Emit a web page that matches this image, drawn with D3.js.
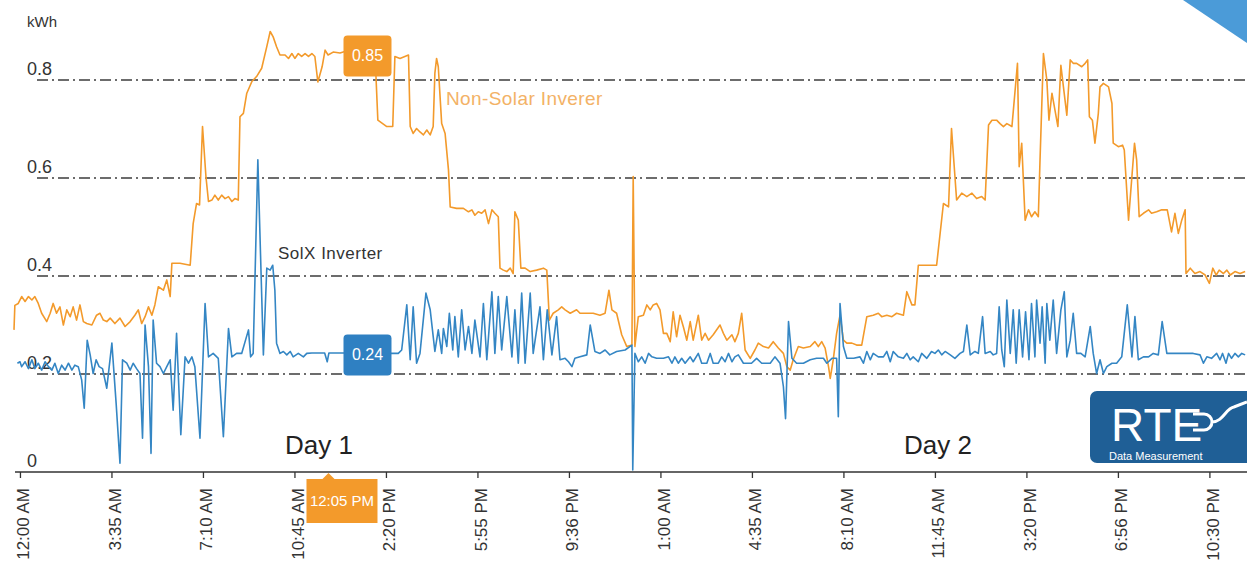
<!DOCTYPE html>
<html>
<head>
<meta charset="utf-8">
<script src="https://cdn.jsdelivr.net/npm/d3@7"></script>
<style>
  body { margin: 0; background: #fff; }
  text { font-family: "Liberation Sans", Arial, sans-serif; }
</style>
</head>
<body>
<div id="chart"></div>
<script>
// minutes since first reading, kWh
const nonSolar = [[0,0.29],[2,0.34],[10,0.344],[18,0.358],[26,0.348],[34,0.358],[42,0.351],[49,0.358],[57,0.344],[65,0.324],[77,0.307],[85,0.324],[92,0.344],[100,0.324],[108,0.337],[116,0.3],[124,0.331],[132,0.317],[139,0.337],[147,0.31],[155,0.341],[163,0.307],[171,0.303],[183,0.3],[194,0.32],[202,0.324],[210,0.31],[218,0.307],[226,0.314],[237,0.303],[249,0.314],[261,0.297],[273,0.307],[284,0.32],[292,0.331],[300,0.303],[308,0.317],[316,0.337],[324,0.32],[331,0.341],[339,0.378],[351,0.371],[359,0.392],[367,0.358],[371,0.426],[390,0.426],[414,0.422],[421,0.507],[429,0.548],[436,0.545],[443,0.705],[451,0.603],[457,0.552],[465,0.555],[472,0.565],[480,0.555],[488,0.565],[496,0.558],[504,0.562],[512,0.552],[519,0.558],[527,0.555],[531,0.725],[539,0.732],[547,0.773],[559,0.797],[570,0.807],[582,0.824],[594,0.868],[602,0.899],[609,0.888],[617,0.868],[625,0.851],[637,0.851],[645,0.844],[653,0.854],[660,0.844],[668,0.854],[676,0.848],[684,0.854],[692,0.848],[700,0.854],[707,0.848],[714,0.796],[724,0.827],[731,0.861],[738,0.851],[750,0.857],[766,0.855],[785,0.86],[820,0.87],[848,0.86],[855,0.718],[876,0.705],[890,0.705],[895,0.848],[907,0.844],[927,0.851],[931,0.705],[938,0.691],[946,0.701],[954,0.694],[962,0.688],[970,0.698],[978,0.688],[985,0.705],[989,0.814],[993,0.844],[997,0.827],[1005,0.711],[1013,0.691],[1021,0.616],[1025,0.541],[1040,0.538],[1056,0.538],[1068,0.531],[1076,0.535],[1083,0.524],[1091,0.531],[1099,0.528],[1107,0.535],[1115,0.507],[1123,0.535],[1130,0.528],[1138,0.521],[1142,0.416],[1150,0.412],[1158,0.409],[1166,0.416],[1173,0.405],[1177,0.531],[1185,0.514],[1191,0.416],[1201,0.416],[1213,0.409],[1228,0.412],[1244,0.416],[1252,0.412],[1258,0.31],[1267,0.324],[1279,0.331],[1287,0.337],[1295,0.331],[1307,0.324],[1322,0.331],[1330,0.324],[1346,0.324],[1361,0.324],[1377,0.32],[1389,0.324],[1398,0.371],[1405,0.331],[1416,0.324],[1428,0.28],[1440,0.256],[1452,0.259],[1455,0.603],[1459,0.256],[1467,0.317],[1479,0.32],[1487,0.341],[1495,0.331],[1502,0.341],[1510,0.344],[1518,0.331],[1526,0.283],[1534,0.283],[1542,0.266],[1549,0.327],[1557,0.276],[1565,0.32],[1573,0.296],[1581,0.269],[1589,0.307],[1596,0.269],[1608,0.32],[1616,0.269],[1624,0.283],[1632,0.269],[1643,0.28],[1659,0.3],[1667,0.283],[1675,0.269],[1687,0.28],[1694,0.266],[1702,0.283],[1710,0.324],[1718,0.249],[1730,0.232],[1741,0.249],[1749,0.263],[1761,0.256],[1773,0.253],[1784,0.266],[1796,0.253],[1808,0.242],[1816,0.215],[1824,0.208],[1831,0.229],[1843,0.256],[1855,0.253],[1871,0.256],[1882,0.266],[1890,0.256],[1898,0.266],[1906,0.253],[1914,0.215],[1918,0.191],[1925,0.229],[1933,0.283],[1941,0.32],[1949,0.269],[1957,0.263],[1969,0.263],[1980,0.259],[1992,0.259],[2004,0.317],[2019,0.32],[2031,0.324],[2039,0.317],[2051,0.32],[2063,0.317],[2074,0.324],[2090,0.32],[2098,0.368],[2110,0.341],[2117,0.341],[2125,0.422],[2145,0.422],[2168,0.422],[2184,0.548],[2196,0.541],[2203,0.701],[2215,0.555],[2227,0.569],[2239,0.562],[2251,0.569],[2262,0.558],[2274,0.562],[2282,0.555],[2290,0.708],[2298,0.718],[2309,0.718],[2317,0.711],[2325,0.705],[2333,0.711],[2345,0.705],[2358,0.834],[2362,0.623],[2368,0.671],[2376,0.514],[2384,0.535],[2391,0.521],[2399,0.531],[2407,0.521],[2411,0.637],[2419,0.854],[2427,0.8],[2432,0.718],[2439,0.773],[2446,0.739],[2453,0.705],[2460,0.83],[2466,0.786],[2474,0.728],[2482,0.841],[2489,0.834],[2497,0.834],[2509,0.827],[2517,0.834],[2523,0.841],[2527,0.725],[2534,0.718],[2540,0.671],[2548,0.732],[2552,0.786],[2560,0.793],[2572,0.786],[2580,0.752],[2583,0.671],[2595,0.664],[2605,0.667],[2609,0.657],[2619,0.514],[2625,0.582],[2633,0.671],[2638,0.637],[2644,0.521],[2654,0.528],[2666,0.535],[2673,0.528],[2685,0.531],[2697,0.535],[2710,0.535],[2720,0.49],[2728,0.528],[2736,0.487],[2744,0.514],[2752,0.535],[2754,0.405],[2764,0.416],[2775,0.405],[2787,0.409],[2799,0.402],[2809,0.385],[2817,0.416],[2825,0.402],[2832,0.412],[2842,0.405],[2850,0.412],[2858,0.402],[2869,0.409],[2881,0.405],[2893,0.409]];

const solx = [[8,0.222],[14,0.225],[18,0.215],[26,0.225],[34,0.211],[42,0.229],[49,0.211],[57,0.222],[65,0.208],[73,0.225],[81,0.215],[89,0.208],[96,0.222],[104,0.201],[112,0.218],[120,0.208],[128,0.222],[136,0.208],[143,0.218],[151,0.215],[159,0.188],[165,0.13],[172,0.269],[179,0.239],[186,0.201],[193,0.229],[200,0.215],[208,0.211],[218,0.171],[230,0.263],[240,0.14],[249,0.018],[255,0.229],[265,0.222],[273,0.208],[280,0.222],[288,0.211],[296,0.201],[302,0.069],[308,0.3],[316,0.215],[322,0.038],[327,0.31],[335,0.222],[343,0.215],[351,0.201],[359,0.215],[367,0.229],[374,0.126],[382,0.283],[392,0.076],[402,0.235],[410,0.222],[418,0.235],[425,0.215],[437,0.069],[449,0.344],[457,0.235],[468,0.242],[480,0.232],[492,0.072],[504,0.293],[512,0.235],[523,0.242],[535,0.242],[551,0.29],[556,0.235],[562,0.242],[573,0.637],[586,0.239],[594,0.416],[602,0.412],[608,0.422],[613,0.371],[617,0.263],[625,0.242],[633,0.246],[641,0.239],[649,0.246],[656,0.235],[668,0.242],[680,0.235],[688,0.242],[700,0.243],[730,0.243],[736,0.225],[740,0.243],[766,0.243],[820,0.243],[888,0.242],[903,0.242],[911,0.249],[923,0.341],[931,0.229],[938,0.337],[946,0.222],[954,0.242],[968,0.365],[978,0.331],[989,0.246],[997,0.29],[1005,0.242],[1009,0.293],[1017,0.256],[1023,0.324],[1031,0.249],[1036,0.317],[1044,0.235],[1052,0.331],[1060,0.249],[1068,0.297],[1076,0.242],[1083,0.31],[1095,0.235],[1103,0.344],[1111,0.229],[1123,0.368],[1130,0.242],[1138,0.358],[1146,0.249],[1158,0.358],[1170,0.235],[1177,0.331],[1185,0.222],[1193,0.365],[1201,0.222],[1213,0.365],[1220,0.242],[1236,0.337],[1244,0.229],[1253,0.331],[1264,0.239],[1275,0.317],[1283,0.229],[1295,0.232],[1303,0.225],[1311,0.215],[1318,0.232],[1330,0.235],[1346,0.239],[1354,0.3],[1365,0.246],[1377,0.242],[1389,0.249],[1400,0.239],[1416,0.246],[1436,0.249],[1452,0.259],[1454,0.004],[1459,0.242],[1467,0.225],[1475,0.235],[1483,0.222],[1491,0.242],[1499,0.235],[1510,0.232],[1526,0.232],[1538,0.235],[1546,0.222],[1553,0.235],[1561,0.222],[1569,0.232],[1577,0.222],[1589,0.235],[1596,0.225],[1608,0.242],[1616,0.222],[1628,0.222],[1636,0.242],[1643,0.222],[1655,0.222],[1663,0.235],[1671,0.225],[1679,0.242],[1687,0.225],[1694,0.235],[1702,0.239],[1714,0.222],[1733,0.222],[1745,0.232],[1757,0.222],[1777,0.222],[1788,0.235],[1800,0.222],[1808,0.174],[1813,0.109],[1820,0.307],[1828,0.232],[1839,0.222],[1855,0.222],[1871,0.229],[1886,0.232],[1902,0.232],[1910,0.222],[1922,0.232],[1933,0.232],[1937,0.113],[1941,0.344],[1949,0.256],[1957,0.232],[1973,0.232],[1988,0.235],[1996,0.222],[2004,0.246],[2012,0.229],[2019,0.242],[2031,0.235],[2043,0.235],[2051,0.246],[2059,0.225],[2066,0.246],[2078,0.235],[2090,0.232],[2098,0.242],[2106,0.229],[2113,0.235],[2125,0.225],[2133,0.242],[2145,0.232],[2156,0.246],[2164,0.242],[2172,0.249],[2180,0.239],[2188,0.246],[2200,0.239],[2211,0.232],[2223,0.242],[2231,0.246],[2239,0.3],[2247,0.239],[2258,0.246],[2266,0.242],[2276,0.317],[2282,0.242],[2294,0.246],[2301,0.239],[2309,0.242],[2315,0.337],[2321,0.249],[2327,0.215],[2333,0.351],[2341,0.242],[2348,0.331],[2355,0.222],[2362,0.331],[2370,0.235],[2377,0.327],[2385,0.229],[2391,0.344],[2399,0.235],[2403,0.351],[2411,0.263],[2416,0.337],[2423,0.222],[2427,0.344],[2434,0.269],[2442,0.351],[2450,0.242],[2460,0.331],[2468,0.368],[2474,0.235],[2482,0.269],[2489,0.324],[2497,0.242],[2507,0.242],[2517,0.235],[2529,0.297],[2536,0.242],[2544,0.201],[2552,0.229],[2560,0.201],[2568,0.215],[2580,0.222],[2591,0.222],[2603,0.235],[2616,0.341],[2627,0.235],[2634,0.317],[2642,0.229],[2654,0.235],[2666,0.235],[2677,0.242],[2689,0.239],[2698,0.307],[2709,0.242],[2724,0.242],[2748,0.242],[2771,0.242],[2787,0.239],[2795,0.222],[2803,0.235],[2814,0.232],[2826,0.242],[2834,0.229],[2840,0.242],[2848,0.222],[2854,0.242],[2861,0.232],[2869,0.242],[2877,0.235],[2885,0.242],[2893,0.239]];

const tickMinutes = [14, 229, 444, 659, 874, 1089, 1304, 1519, 1734, 1949, 2164, 2379, 2594, 2809];
const tickLabels = ["12:00 AM", "3:35 AM", "7:10 AM", "10:45 AM", "2:20 PM", "5:55 PM", "9:36 PM",
  "1:00 AM", "4:35 AM", "8:10 AM", "11:45 AM", "3:20 PM", "6:56 PM", "10:30 PM"];
const yTicks = [0, 0.2, 0.4, 0.6, 0.8];
const gridValues = [0.2, 0.4, 0.6, 0.8];

// hover readout shown in the picture
const markerMinute = 739;
const markerLabel = "12:05 PM";
const markerValues = { nonSolar: 0.85, solx: 0.24 };

const width = 1247, height = 565;
const orange = "#f39a2b", blue = "#3486c4";

const svg = d3.select("#chart")
  .append("svg")
  .attr("width", width)
  .attr("height", height);

const x = d3.scaleLinear().domain([0, 2895]).range([14, 1246]);
const y = d3.scaleLinear().domain([0, 1]).range([472, -18]);

// corner triangle
svg.append("path")
  .attr("d", "M1183,0 L1247,0 L1247,43 Z")
  .attr("fill", "#4b9bd8");

// dash-dot gridlines
svg.append("g")
  .selectAll("line")
  .data(gridValues)
  .enter().append("line")
  .attr("x1", 37).attr("x2", width)
  .attr("y1", d => y(d)).attr("y2", d => y(d))
  .attr("stroke", "#3d3d3d")
  .attr("stroke-width", 1.4)
  .attr("stroke-dasharray", "11,4,2,4");

// y labels sit above their gridline
svg.append("g")
  .selectAll("text")
  .data(yTicks)
  .enter().append("text")
  .attr("x", 27)
  .attr("y", d => y(d) - 5)
  .attr("font-size", 18)
  .attr("fill", "#333")
  .text(d => d === 0 ? "0" : d3.format(".1f")(d));

svg.append("text")
  .attr("x", 27).attr("y", 27)
  .attr("font-size", 15)
  .attr("fill", "#333")
  .text("kWh");

const line = d3.line()
  .x(d => x(d[0]))
  .y(d => y(d[1]));

svg.append("path")
  .datum(nonSolar)
  .attr("fill", "none")
  .attr("stroke", orange)
  .attr("stroke-width", 1.6)
  .attr("stroke-linejoin", "round")
  .attr("d", line);

svg.append("path")
  .datum(solx)
  .attr("fill", "none")
  .attr("stroke", blue)
  .attr("stroke-width", 1.6)
  .attr("stroke-linejoin", "round")
  .attr("d", line);

// x axis
const xAxis = svg.append("g")
  .attr("transform", "translate(0," + y(0) + ")")
  .call(d3.axisBottom(x)
    .tickValues(tickMinutes)
    .tickFormat((d, i) => tickLabels[i])
    .tickSize(6)
    .tickSizeOuter(0));
xAxis.select(".domain").remove();
xAxis.append("line")
  .attr("x1", 15).attr("x2", width)
  .attr("stroke", "#333").attr("stroke-width", 1.5);
xAxis.selectAll(".tick line").attr("stroke", "#333").attr("stroke-width", 1.3);
xAxis.selectAll(".tick text")
  .attr("transform", "rotate(-90)")
  .attr("text-anchor", "end")
  .attr("x", -16)
  .attr("y", 3)
  .attr("dy", "0.35em")
  .attr("font-size", 17)
  .attr("font-family", "Liberation Sans, Arial, sans-serif")
  .attr("fill", "#333");

// series labels
svg.append("text")
  .attr("x", 446).attr("y", 105)
  .attr("font-size", 19)
  .attr("letter-spacing", 0.4)
  .attr("fill", "#f3b266")
  .text("Non-Solar Inverer");

svg.append("text")
  .attr("x", 278).attr("y", 259)
  .attr("font-size", 17)
  .attr("letter-spacing", 0.5)
  .attr("fill", "#333")
  .text("SolX Inverter");

svg.append("text")
  .attr("x", 285).attr("y", 454)
  .attr("font-size", 26)
  .attr("fill", "#222")
  .text("Day 1");

svg.append("text")
  .attr("x", 904).attr("y", 454)
  .attr("font-size", 26)
  .attr("fill", "#222")
  .text("Day 2");

// value callouts at the marker time
const cx = x(markerMinute) + 39;
[[markerValues.nonSolar, "#f39a2b"], [markerValues.solx, "#2f80c2"]].forEach(([v, fill]) => {
  const g = svg.append("g").attr("transform", "translate(" + cx + "," + y(v) + ")");
  g.append("rect")
    .attr("x", -24).attr("y", -20)
    .attr("width", 48).attr("height", 41)
    .attr("rx", 4)
    .attr("fill", fill);
  g.append("text")
    .attr("text-anchor", "middle")
    .attr("dy", "0.36em")
    .attr("font-size", 16)
    .attr("fill", "#fff")
    .text(d3.format(".2f")(v));
});

// time callout under the axis
const tx = x(markerMinute);
const tg = svg.append("g").attr("transform", "translate(" + tx + "," + y(0) + ")");
tg.append("path")
  .attr("d", "M-22,7 L-6,7 L0,1 L6,7 L49,7 L49,51 L-22,51 Z")
  .attr("fill", "#f39a2b");
tg.append("text")
  .attr("x", 13.5).attr("y", 34)
  .attr("text-anchor", "middle")
  .attr("font-size", 15)
  .attr("font-family", "Liberation Sans Narrow, Liberation Sans, Arial, sans-serif")
  .attr("fill", "#fff")
  .text(markerLabel);

// logo
const logo = svg.append("g");
logo.append("rect")
  .attr("x", 1090).attr("y", 391)
  .attr("width", 175).attr("height", 72)
  .attr("rx", 7)
  .attr("fill", "#1f5f96");
logo.append("text")
  .attr("x", 1111).attr("y", 441)
  .attr("font-size", 46)
  .attr("font-family", "Liberation Sans Narrow, Liberation Sans, Arial, sans-serif")
  .attr("fill", "#fff")
  .text("RTE");
logo.append("path")
  .attr("d", "M1193,414 H1204 A8,8 0 0 1 1204,430 H1193 M1212,422 C1223,422 1226,408 1234,407 L1247,402")
  .attr("fill", "none")
  .attr("stroke", "#fff")
  .attr("stroke-width", 3);
logo.append("text")
  .attr("x", 1109).attr("y", 460)
  .attr("font-size", 11)
  .attr("fill", "#fff")
  .text("Data Measurement");
</script>
</body>
</html>
